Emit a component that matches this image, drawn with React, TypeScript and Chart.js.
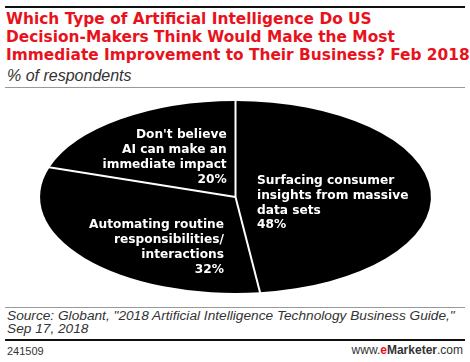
import React, { useEffect, useRef } from "react";
import { Chart, registerables } from "chart.js";

Chart.register(...registerables);

const categories = [
  "Surfacing consumer insights from massive data sets",
  "Automating routine responsibilities/interactions",
  "Don't believe AI can make an immediate impact",
];
const values = [48, 32, 20];
const labelLines = [
  ["Surfacing consumer", "insights from massive", "data sets"],
  ["Automating routine", "responsibilities/", "interactions"],
  ["Don't believe", "AI can make an", "immediate impact"],
];

const TITLE_RED = "#e8121c";
const X_SCALE = 2.036;

// label layout: offset from pie center and alignment
const labelLayout = [
  { dx: 21.5, dy: -13, align: "left" },
  { dx: -11.5, dy: 31.3, align: "right" },
  { dx: -8.8, dy: -58.7, align: "right" },
];

const ellipsePlugin = {
  id: "ellipse",
  beforeDatasetsDraw(chart: any) {
    const meta = chart.getDatasetMeta(0);
    const arc = meta.data[0];
    if (!arc) return;
    const ctx = chart.ctx;
    ctx.save();
    ctx.translate(arc.x, arc.y);
    ctx.scale(X_SCALE, 1);
    ctx.translate(-arc.x, -arc.y);
  },
  afterDatasetsDraw(chart: any) {
    const ctx = chart.ctx;
    ctx.restore();
    const meta = chart.getDatasetMeta(0);
    const arcs = meta.data;
    if (!arcs.length) return;
    const cx = arcs[0].x;
    const cy = arcs[0].y;
    const r = arcs[0].outerRadius;
    // separators
    ctx.save();
    ctx.strokeStyle = "#ffffff";
    ctx.lineWidth = 2;
    arcs.forEach((a: any) => {
      const ang = a.startAngle;
      ctx.beginPath();
      ctx.moveTo(cx, cy);
      ctx.lineTo(cx + Math.cos(ang) * r * X_SCALE * 1.02, cy + Math.sin(ang) * r * 1.02);
      ctx.stroke();
    });
    ctx.restore();
    // labels
    ctx.save();
    ctx.fillStyle = "#ffffff";
    ctx.font = 'bold 12.2px "DejaVu Sans", sans-serif';
    ctx.textBaseline = "alphabetic";
    const lh = 14.8;
    values.forEach((v, i) => {
      const lay = labelLayout[i];
      ctx.textAlign = lay.align as CanvasTextAlign;
      const lines = [...labelLines[i], v + "%"];
      lines.forEach((t, j) => {
        ctx.fillText(t, cx + lay.dx, cy + lay.dy + j * lh);
      });
    });
    ctx.restore();
  },
};

function PieChart() {
  const ref = useRef<HTMLCanvasElement | null>(null);
  useEffect(() => {
    if (!ref.current) return;
    const chart = new Chart(ref.current, {
      type: "pie",
      data: {
        labels: categories,
        datasets: [
          {
            data: values,
            backgroundColor: "#000000",
            borderWidth: 0,
          },
        ],
      },
      options: {
        animation: false,
        responsive: false,
        radius: 96,
        layout: { padding: { left: 1 } },
        plugins: {
          legend: { display: false },
          tooltip: { enabled: false },
        },
      } as any,
      plugins: [ellipsePlugin],
    });
    return () => chart.destroy();
  }, []);
  return <canvas ref={ref} width={470} height={210} style={{ display: "block" }} />;
}

export default function App() {
  const font = '"Liberation Sans", Arial, sans-serif';
  return (
    <div
      style={{
        position: "fixed",
        left: 0,
        top: 0,
        width: 470,
        height: 362,
        background: "#fff",
        fontFamily: font,
        overflow: "hidden",
      }}
    >
      <div style={{ position: "absolute", left: 5, top: 6, width: 460, height: 2, background: "#111" }} />
      <div
        style={{
          position: "absolute",
          left: 6,
          top: 11,
          width: 465,
          fontFamily: '"DejaVu Sans", sans-serif',
          fontSize: 15.4,
          fontWeight: "bold",
          color: TITLE_RED,
          lineHeight: "17.8px",
          whiteSpace: "nowrap",
        }}
      >
        <div>Which Type of Artificial Intelligence Do US</div>
        <div>Decision-Makers Think Would Make the Most</div>
        <div>Immediate Improvement to Their Business? Feb 2018</div>
      </div>
      <div
        style={{
          position: "absolute",
          left: 7,
          top: 66,
          fontSize: 16,
          fontStyle: "italic",
          color: "#333",
          lineHeight: "20px",
        }}
      >
        % of respondents
      </div>
      <div style={{ position: "absolute", left: 5, top: 87, width: 460, height: 1, background: "#999" }} />
      <div style={{ position: "absolute", left: 0, top: 92, width: 470, height: 210 }}>
        <PieChart />
      </div>
      <div style={{ position: "absolute", left: 5, top: 307, width: 460, height: 1, background: "#999" }} />
      <div
        style={{
          position: "absolute",
          left: 7,
          top: 310,
          fontSize: 13.7,
          fontStyle: "italic",
          color: "#333",
          lineHeight: "12.5px",
          whiteSpace: "nowrap",
        }}
      >
        <div>Source: Globant, "2018 Artificial Intelligence Technology Business Guide,"</div>
        <div>Sep 17, 2018</div>
      </div>
      <div style={{ position: "absolute", left: 5, top: 339, width: 460, height: 2, background: "#111" }} />
      <div style={{ position: "absolute", left: 7, top: 345, fontSize: 11, color: "#333", lineHeight: "12px" }}>
        241509
      </div>
      <div
        style={{
          position: "absolute",
          right: 7,
          top: 344,
          fontSize: 12,
          color: "#333",
          lineHeight: "13px",
        }}
      >
        www.<b style={{ color: TITLE_RED }}>e</b>
        <b>Marketer</b>.com
      </div>
    </div>
  );
}
